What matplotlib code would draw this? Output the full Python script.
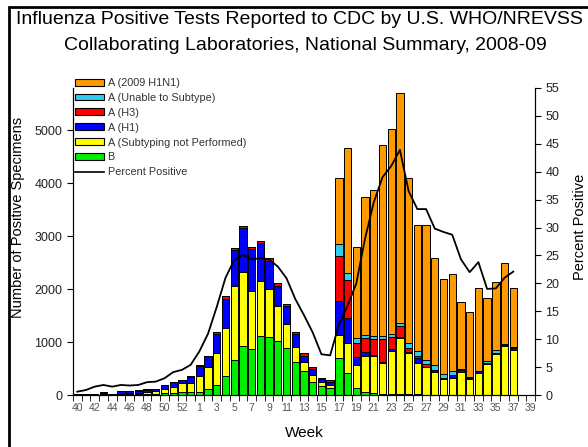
import matplotlib
matplotlib.use("Agg")
import matplotlib.pyplot as plt
import numpy as np
from matplotlib.patches import Patch, Rectangle
from matplotlib.lines import Line2D

plt.rcParams["font.family"] = ["Liberation Sans", "DejaVu Sans"]

# MMWR weeks of the 2008-09 season (2008 had 53 weeks)
weeks = list(range(40, 54)) + list(range(1, 40))

# Positive specimens per week (week 40 .. week 37)
b_vals = [5, 5, 5, 10, 5, 10, 10, 15, 15, 20, 30, 45, 50,
          63, 63, 107, 189, 358, 660, 931, 862, 1120, 1101, 1025, 881, 623,
          453, 255, 170, 130, 692, 409, 126, 63, 30, 20, 15, 15,
          10, 10, 5, 5, 5, 5, 5, 5, 5, 5, 5, 5, 5]
a_nosub = [8, 10, 10, 20, 12, 15, 20, 25, 45, 50, 80, 110, 170,
           157, 295, 415, 610, 900, 1397, 1396, 1100, 1037, 893, 654, 452, 277,
           176, 125, 82, 50, 440, 566, 440, 673, 706, 578, 821, 1054,
           781, 586, 523, 428, 301, 322, 428, 301, 417, 575, 776, 923, 850]
a_h1 = [5, 5, 5, 15, 5, 45, 40, 43, 42, 38, 75, 90, 58,
        126, 195, 214, 352, 560, 673, 818, 787, 705, 541, 384, 353, 252,
        107, 110, 50, 60, 648, 472, 157, 82, 25, 31, 25, 32,
        20, 105, 10, 42, 10, 53, 30, 15, 25, 20, 10, 25, 35]
a_h3 = [2, 2, 3, 5, 2, 5, 5, 5, 5, 5, 4, 7, 5,
        5, 5, 5, 44, 50, 38, 44, 50, 44, 44, 57, 31, 31,
        50, 45, 25, 40, 849, 723, 252, 251, 289, 421, 240, 201,
        84, 42, 42, 5, 5, 5, 5, 5, 5, 5, 5, 5, 5]
a_unable = [0, 0, 0, 0, 0, 0, 0, 0, 0, 0, 0, 0, 0,
            0, 0, 0, 0, 0, 0, 0, 0, 0, 0, 0, 0, 0,
            0, 0, 0, 0, 214, 126, 94, 63, 63, 63, 50, 63,
            80, 84, 74, 95, 84, 63, 20, 5, 10, 40, 53, 5, 5]
a_h1n1 = [0, 0, 0, 0, 0, 0, 0, 0, 0, 0, 0, 0, 0,
          0, 0, 0, 0, 0, 0, 0, 0, 0, 0, 0, 0, 0,
          0, 0, 0, 0, 1258, 2371, 1731, 2611, 2768, 3605, 3881, 4340,
          3118, 2391, 2564, 2010, 1789, 1841, 1274, 1230, 1564, 1191, 1282, 1537, 1126]

pct_positive = [0.6, 0.9, 1.5, 1.8, 1.5, 1.8, 1.7, 1.8, 2.3, 2.4, 3.0, 4.1, 4.5,
                5.4, 7.8, 11.0, 15.8, 21.0, 24.2, 25.1, 24.3, 24.5, 24.3, 23.0, 20.9, 17.2,
                14.3, 11.2, 7.3, 7.1, 12.6, 16.0, 20.0, 28.0, 34.5, 39.0, 41.0, 43.9,
                36.5, 33.3, 33.3, 29.8, 29.2, 28.7, 24.3, 22.0, 23.8, 19.0, 19.1, 21.0, 22.1]

series = [
    (b_vals, "#00EE00", "B"),
    (a_nosub, "#FFFF00", "A (Subtyping not Performed)"),
    (a_h1, "#0000FF", "A (H1)"),
    (a_h3, "#FF0000", "A (H3)"),
    (a_unable, "#33CCF0", "A (Unable to Subtype)"),
    (a_h1n1, "#FF9900", "A (2009 H1N1)"),
]

fig = plt.figure(figsize=(5.88, 4.47), dpi=100)
ax = fig.add_axes([0.124, 0.1163, 0.786, 0.687])

x = np.arange(len(b_vals))
bottom = np.zeros(len(x))
for vals, color, label in series:
    vals = np.array(vals, dtype=float)
    ax.bar(x, vals, 0.84, bottom=bottom, color=color, edgecolor="black",
           linewidth=0.7)
    bottom += vals

ax.set_xlim(-0.5, len(weeks) - 0.5)
ax.set_ylim(0, 5800)
ax.spines["top"].set_visible(False)
ax.set_yticks(range(0, 5001, 1000))
ax.set_xticks(np.arange(0, len(weeks), 2))
ax.set_xticklabels([str(w) for w in weeks[::2]])
ax.set_xticks(np.arange(-0.5, len(weeks), 1), minor=True)
ax.tick_params(axis="x", which="major", length=0, labelsize=7.5,
               labelcolor="#555555", pad=6)
ax.tick_params(axis="x", which="minor", length=4, direction="out")
ax.tick_params(axis="y", length=4, labelsize=9, labelcolor="#222222")
ax.set_xlabel("Week", fontsize=11, labelpad=9)

ax2 = ax.twinx()
ax2.plot(x, pct_positive, color="black", lw=1.3)
ax2.set_ylim(0, 55)
ax2.set_yticks(range(0, 56, 5))
ax2.spines["top"].set_visible(False)
ax2.tick_params(axis="y", length=4, labelsize=9, labelcolor="#222222")

# legend (top entry first)
handles = [Patch(facecolor=c, edgecolor="black", linewidth=0.8) for _, c, _ in series[::-1]]
labels = [l for _, _, l in series[::-1]]
handles.append(Line2D([], [], color="black", lw=1.2))
labels.append("Percent Positive")
fig.legend(handles, labels, loc="upper left", bbox_to_anchor=(75 / 588, 1 - 78 / 447),
           frameon=False, fontsize=7.8, handlelength=2.7, handleheight=0.6,
           labelspacing=0.45, handletextpad=0.3, borderaxespad=0, borderpad=0,
           labelcolor="#333333")

fig.text(299 / 588, 1 - 20 / 447, "Influenza Positive Tests Reported to CDC by U.S. WHO/NREVSS",
         ha="center", va="center", fontsize=14)
fig.text(305 / 588, 1 - 45 / 447, "Collaborating Laboratories, National Summary, 2008-09",
         ha="center", va="center", fontsize=14)
fig.text(18 / 588, 1 - 217 / 447, "Number of Positive Specimens", rotation=90,
         ha="center", va="center", fontsize=10.5)
fig.text(580 / 588, 1 - 227 / 447, "Percent Positive", rotation=90,
         ha="center", va="center", fontsize=10.5)

# frame around the chart, cut off at right and bottom
fig.add_artist(Rectangle((9 / 588, -0.1), 1.2, 1.1 - 7 / 447, transform=fig.transFigure,
                         fill=False, lw=2, edgecolor="black"))

fig.savefig("out.png", dpi=100)
